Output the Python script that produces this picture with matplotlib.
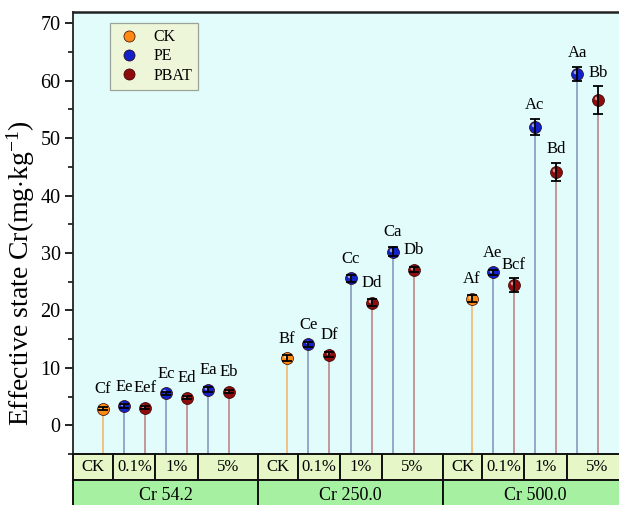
import matplotlib
matplotlib.use('Agg')
import matplotlib.pyplot as plt
from matplotlib.patches import Rectangle
from matplotlib.lines import Line2D
from matplotlib.transforms import ScaledTranslation

plt.rcParams['font.family'] = ['Liberation Serif', 'DejaVu Serif']
plt.rcParams['mathtext.fontset'] = 'custom'
plt.rcParams['mathtext.rm'] = 'Liberation Serif'
plt.rcParams['mathtext.it'] = 'Liberation Serif:italic'

# data: per Cr dose, CK then (0.1%, 1%, 5%) for PE and PBAT
doses = ['Cr 54.2', 'Cr 250.0', 'Cr 500.0']
rates = ['CK', '0.1%', '1%', '5%']

ck_vals = [2.9, 11.7, 22.0]
ck_err = [0.3, 0.5, 0.6]
ck_lbl = ['Cf', 'Bf', 'Af']

pe_vals = [3.35, 5.56, 6.2, 14.1, 25.6, 30.2, 26.6, 51.9, 61.2]
pe_err = [0.3, 0.3, 0.4, 0.4, 0.6, 0.8, 0.5, 1.45, 1.2]
pe_lbl = ['Ee', 'Ec', 'Ea', 'Ce', 'Cc', 'Ca', 'Ae', 'Ac', 'Aa']

pbat_vals = [3.07, 4.8, 5.85, 12.3, 21.3, 27.1, 24.4, 44.1, 56.6]
pbat_err = [0.3, 0.3, 0.3, 0.5, 0.6, 0.5, 1.2, 1.6, 2.4]
pbat_lbl = ['Eef', 'Ed', 'Eb', 'Df', 'Dd', 'Db', 'Bcf', 'Bd', 'Bb']

colors = {'CK': '#ff8a12', 'PE': '#1222c8', 'PBAT': '#8e0c0c'}
stem_colors = {'CK': '#f3bc7a', 'PE': '#8aa2c8', 'PBAT': '#bf9090'}

group_gap = 8.75
y_bottom = -5

# x positions
ck_x, pe_x, pbat_x = [], [], []
for g in range(len(doses)):
    base = g * group_gap
    ck_x.append(base)
    for k in range(3):
        pe_x.append(base + 1 + 2 * k)
        pbat_x.append(base + 2 + 2 * k)

fig = plt.figure(figsize=(6.19, 5.05), dpi=100)
W, H = 619, 505
ax_left, ax_right = 73, 628
ax_top, ax_bot = 11.7, 454
ax = fig.add_axes([ax_left / W, 1 - ax_bot / H, (ax_right - ax_left) / W, (ax_bot - ax_top) / H])
ax.set_facecolor('#e2fbfb')

xmin, xmax = -1.41, 2 * group_gap + 6 + 1.41
ax.set_xlim(xmin, xmax)
ax.set_ylim(y_bottom, 72)

series = [
    ('CK', ck_x, ck_vals, ck_err, ck_lbl),
    ('PE', pe_x, pe_vals, pe_err, pe_lbl),
    ('PBAT', pbat_x, pbat_vals, pbat_err, pbat_lbl),
]

hl = ax.transData + ScaledTranslation(-1.3 / 72, 1.4 / 72, fig.dpi_scale_trans)
for name, xs, vs, es, lb in series:
    ax.vlines(xs, y_bottom, vs, color=stem_colors[name], lw=1.3, zorder=1)
    ax.plot(xs, vs, 'o', ms=8.6, color=colors[name], mec='#300000', mew=0.5, zorder=3)
    ax.plot(xs, vs, 'o', ms=2.6, color='white', alpha=0.55, mew=0, zorder=4, transform=hl)
    ax.errorbar(xs, vs, yerr=es, fmt='none', ecolor='black', elinewidth=1.3,
                capsize=3.4, capthick=1.3, zorder=5)

fig.canvas.draw()
ppu = ax.transData.transform((0, 1))[1] - ax.transData.transform((0, 0))[1]
for name, xs, vs, es, lb in series:
    for x, v, e, t in zip(xs, vs, es, lb):
        dy = (max(e * ppu, 6) + 13.5) * 0.72
        ax.annotate(t, (x, v), xytext=(0, dy), textcoords='offset points',
                    ha='center', va='center', fontsize=12, zorder=6)

ax.set_yticks(range(0, 71, 10))
ax.set_yticks(range(-5, 71, 10), minor=True)
ax.tick_params(axis='y', which='major', direction='out', length=6, width=1.2,
               labelsize=14.5, pad=3)
ax.tick_params(axis='y', which='minor', direction='out', length=3.5, width=1.1)
ax.set_xticks([])
for s in ['right', 'bottom']:
    ax.spines[s].set_visible(False)
ax.spines['top'].set_linewidth(1.8)
ax.spines['left'].set_linewidth(1.3)
ax.spines['top'].set_color('#222222')
ax.spines['left'].set_color('#222222')

ax.set_ylabel(r'Effective state Cr(mg$\cdot$kg$^{\mathrm{-1}}$)', fontsize=20)
ax.yaxis.set_label_coords(-0.064, 0.41)

handles = [Line2D([], [], ls='none', marker='o', ms=8, color=colors[n], mec='#300000', mew=0.5)
           for n in ['CK', 'PE', 'PBAT']]
leg = ax.legend(handles, ['CK', 'PE', 'PBAT'], loc='upper left',
                bbox_to_anchor=(0.0667, 0.975), borderaxespad=0, fontsize=11.5,
                frameon=True, fancybox=False, handletextpad=0.7, labelspacing=0.2,
                borderpad=0.4, handlelength=1.6)
leg.get_frame().set_facecolor('#eef6da')
leg.get_frame().set_edgecolor('#9aa39a')
leg.get_frame().set_linewidth(0.9)
leg.get_frame().set_alpha(1)

# table below the axis
tab = fig.add_axes([ax_left / W, 0, (ax_right - ax_left) / W, 1 - ax_bot / H])
tab.set_xlim(xmin, xmax)
tab.set_ylim(0, H - ax_bot)
tab.axis('off')
top_h = H - ax_bot
row1_lo = H - 480
row2_lo = -10
for g, dose in enumerate(doses):
    base = g * group_gap
    left = xmin if g == 0 else base - (group_gap - 6) / 2
    right = xmax if g == len(doses) - 1 else base + 6 + (group_gap - 6) / 2
    edges = [left, base + 0.5, base + 2.5, base + 4.5, right]
    for k, r in enumerate(rates):
        tab.add_patch(Rectangle((edges[k], row1_lo), edges[k + 1] - edges[k], top_h - row1_lo,
                                facecolor='#e6f6c6', edgecolor='#111111', lw=1.4, clip_on=False))
        tab.text((edges[k] + edges[k + 1]) / 2, (top_h + row1_lo) / 2, r,
                 ha='center', va='center', fontsize=12)
    tab.add_patch(Rectangle((left, row2_lo), right - left, row1_lo - row2_lo,
                            facecolor='#a6f0a2', edgecolor='#111111', lw=1.4, clip_on=False))
    tab.text((left + right) / 2, 9.5, dose, ha='center', va='center', fontsize=13)

fig.savefig('out.png', dpi=100)
